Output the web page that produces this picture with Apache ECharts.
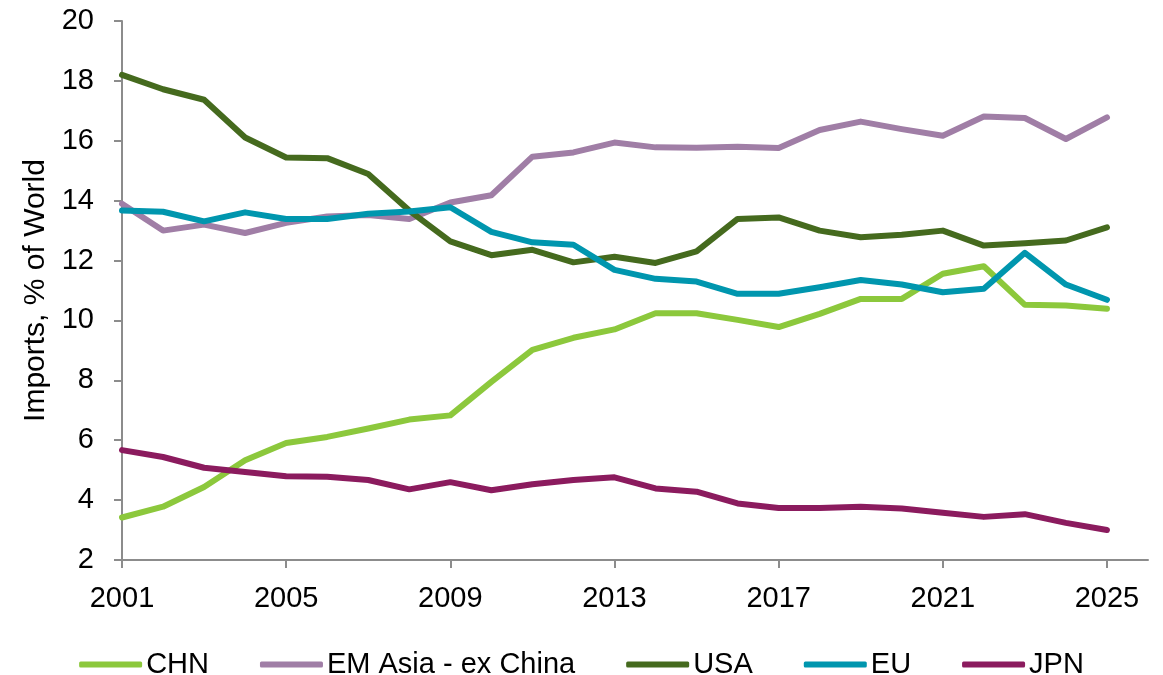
<!DOCTYPE html>
<html>
<head>
<meta charset="utf-8">
<script src="https://cdn.jsdelivr.net/npm/echarts@6/dist/echarts.min.js"></script>
<style>
  html, body { margin: 0; padding: 0; background: #ffffff; }
  #chart { width: 1163px; height: 675px; }
</style>
</head>
<body>
<div id="chart"></div>
<script>
// Years on the x axis (the axis runs one year past the last observation)
const years = ['2001','2002','2003','2004','2005','2006','2007','2008','2009','2010',
  '2011','2012','2013','2014','2015','2016','2017','2018','2019','2020',
  '2021','2022','2023','2024','2025','2026'];

// Share of world imports, %
const chn = [3.42, 3.78, 4.44, 5.33, 5.91, 6.11, 6.39, 6.69, 6.83, 7.95,
  9.02, 9.42, 9.70, 10.24, 10.24, 10.02, 9.78, 10.22, 10.72, 10.72,
  11.56, 11.81, 10.52, 10.50, 10.39];
const emAsia = [13.90, 13.00, 13.20, 12.92, 13.26, 13.47, 13.52, 13.39, 13.94, 14.18,
  15.47, 15.61, 15.94, 15.78, 15.77, 15.80, 15.76, 16.36, 16.64, 16.39,
  16.17, 16.81, 16.76, 16.06, 16.78];
const usa = [18.20, 17.72, 17.37, 16.11, 15.44, 15.42, 14.89, 13.67, 12.64, 12.18,
  12.36, 11.94, 12.13, 11.92, 12.31, 13.39, 13.44, 13.00, 12.78, 12.86,
  13.00, 12.50, 12.58, 12.67, 13.11];
const eu = [13.67, 13.63, 13.31, 13.61, 13.39, 13.39, 13.56, 13.64, 13.78, 12.96,
  12.61, 12.53, 11.69, 11.39, 11.30, 10.89, 10.89, 11.11, 11.35, 11.20,
  10.94, 11.06, 12.26, 11.20, 10.69];
const jpn = [5.67, 5.44, 5.08, 4.94, 4.80, 4.78, 4.67, 4.36, 4.60, 4.33,
  4.53, 4.67, 4.76, 4.39, 4.28, 3.89, 3.74, 3.74, 3.78, 3.72,
  3.58, 3.44, 3.53, 3.24, 3.00];

const seriesNames = ['CHN', 'EM Asia - ex China', 'USA', 'EU', 'JPN'];
const seriesData = [chn, emAsia, usa, eu, jpn];
const seriesColors = ['#8cc83c', '#a07ea6', '#456a1e', '#0096ae', '#8b1b5e'];

const FONT = '"Liberation Sans", Arial, sans-serif';
const AXIS_GREY = '#8c8c8c';

const chart = echarts.init(document.getElementById('chart'), null, { renderer: 'canvas' });

chart.setOption({
  animation: false,
  backgroundColor: '#ffffff',
  textStyle: { fontFamily: FONT, color: '#000000' },
  grid: { left: 122, right: 15, top: 21, bottom: 115 },
  legend: {
    data: seriesNames,
    top: 645,
    left: 'center',
    icon: 'roundRect',
    itemWidth: 63,
    itemHeight: 6,
    itemGap: 51,
    textStyle: { fontFamily: FONT, fontSize: 29, color: '#000000', padding: [0, 0, 0, -1] }
  },
  xAxis: {
    type: 'category',
    data: years,
    boundaryGap: false,
    axisLine: { show: true, lineStyle: { color: AXIS_GREY, width: 2 } },
    axisTick: { show: true, interval: 3, length: 8, lineStyle: { color: AXIS_GREY, width: 2 } },
    axisLabel: { interval: 3, margin: 24, fontFamily: FONT, fontSize: 29, color: '#000000' },
    splitLine: { show: false }
  },
  yAxis: {
    type: 'value',
    min: 2,
    max: 20,
    interval: 2,
    name: 'Imports, % of World',
    nameLocation: 'middle',
    nameGap: 70,
    nameTextStyle: { fontFamily: FONT, fontSize: 30, color: '#000000' },
    axisLine: { show: true, lineStyle: { color: AXIS_GREY, width: 2 } },
    axisTick: { show: true, length: 8, lineStyle: { color: AXIS_GREY, width: 2 } },
    axisLabel: { margin: 28, fontFamily: FONT, fontSize: 29, color: '#000000' },
    splitLine: { show: false }
  },
  series: seriesNames.map((name, i) => ({
    name: name,
    type: 'line',
    data: seriesData[i],
    symbol: 'none',
    color: seriesColors[i],
    lineStyle: { width: 6, color: seriesColors[i], cap: 'round', join: 'round' },
    emphasis: { disabled: true }
  }))
});
</script>
</body>
</html>
